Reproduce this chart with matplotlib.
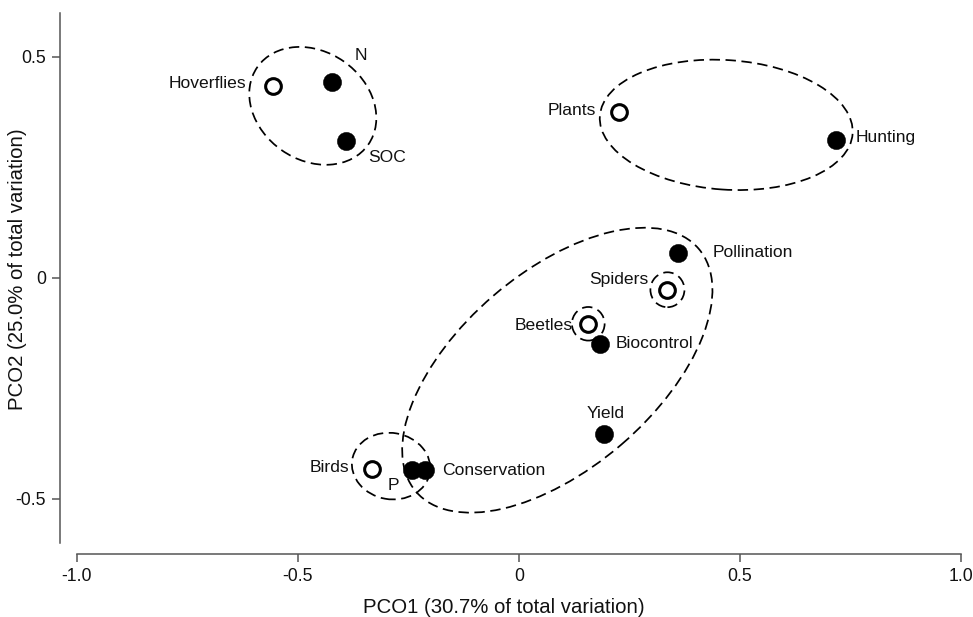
import matplotlib
matplotlib.use("Agg")
import matplotlib.pyplot as plt
from matplotlib.patches import Ellipse

plt.rcParams["font.family"] = ["Liberation Sans", "DejaVu Sans"]

# PCO scores
names = ["Hoverflies", "N", "SOC", "Plants", "Hunting", "Pollination", "Spiders",
         "Beetles", "Biocontrol", "Yield", "Birds", "P", "Conservation"]
pco1 = [-0.555, -0.423, -0.391, 0.227, 0.718, 0.360, 0.336,
        0.157, 0.184, 0.193, -0.331, -0.242, -0.213]
pco2 = [0.433, 0.442, 0.310, 0.376, 0.312, 0.057, -0.027,
        -0.104, -0.149, -0.354, -0.433, -0.435, -0.435]
# open circle = taxon, filled = service / soil variable
is_taxon = [True, False, False, True, False, False, True,
            True, False, False, True, False, False]

# cluster outlines: centre x, centre y, width, height, angle (deg)
ell_x = [-0.466, 0.469, 0.087, -0.289, 0.336, 0.157]
ell_y = [0.389, 0.346, -0.209, -0.426, -0.027, -0.104]
ell_w = [0.306, 0.573, 0.843, 0.178, 0.077, 0.074]
ell_h = [0.245, 0.293, 0.444, 0.150, 0.079, 0.076]
ell_a = [-35, -4, 40.7, -10, 0, 0]

xticks = [-1.0, -0.5, 0, 0.5, 1.0]
xtick_labels = ["-1.0", "-0.5", "0", "0.5", "1.0"]
yticks = [-0.5, 0, 0.5]
ytick_labels = ["-0.5", "0", "0.5"]

# label placement, offset in pixels from the point (dx, dy), alignment
LABELS = {
    "Hoverflies": (-27, 3, "right", "center"),
    "N": (29, 27, "center", "center"),
    "SOC": (22, -17, "left", "center"),
    "Plants": (-23, 1, "right", "center"),
    "Hunting": (19, 2, "left", "center"),
    "Pollination": (35, 0, "left", "center"),
    "Spiders": (-19, 10, "right", "center"),
    "Beetles": (-16, -2, "right", "center"),
    "Biocontrol": (15, 0, "left", "center"),
    "Yield": (1, 21, "center", "center"),
    "Birds": (-23, 2, "right", "center"),
    "P": (-18, -15, "center", "center"),
    "Conservation": (17, 0, "left", "center"),
}

fig = plt.figure(figsize=(9.73, 6.17), dpi=100)
ax = fig.add_axes([0.0788, 0.1199, 0.9089, 0.8597])

for cx, cy, w, h, a in zip(ell_x, ell_y, ell_w, ell_h, ell_a):
    ax.add_patch(Ellipse((cx, cy), w, h, angle=a, fill=False, ec="black",
                         lw=1.25, ls=(0, (6, 3.2))))

for nm, x, y, op in zip(names, pco1, pco2, is_taxon):
    if op:
        ax.plot(x, y, "o", ms=11.3, mfc="white", mec="black", mew=2.2, zorder=3)
    else:
        ax.plot(x, y, "o", ms=13.2, mfc="black", mec="black", mew=0.3, zorder=3)
    dx, dy, ha, va = LABELS[nm]
    ax.annotate(nm, (x, y), xytext=(dx, dy), textcoords="offset pixels",
                ha=ha, va=va, fontsize=12.6, color="#111111")

ax.set_xlim(-1.0, 1.0)
ax.set_ylim(-0.6, 0.6)
for s in ("top", "right"):
    ax.spines[s].set_visible(False)
ax.spines["left"].set_position(("outward", 12))
ax.spines["bottom"].set_position(("outward", 8))
for s in ("left", "bottom"):
    ax.spines[s].set_color("#555555")
    ax.spines[s].set_linewidth(1.1)

ax.set_xticks(xticks)
ax.set_xticklabels(xtick_labels)
ax.set_yticks(yticks)
ax.set_yticklabels(ytick_labels)
ax.tick_params(length=6, width=1.1, color="#555555", labelsize=12.7, pad=4,
               labelcolor="#111111")

ax.set_xlabel("PCO1 (30.7% of total variation)", fontsize=14.7, color="#111111")
ax.set_ylabel("PCO2 (25.0% of total variation)", fontsize=14.7, color="#111111")
ax.xaxis.set_label_coords(0.483, -0.103)
ax.yaxis.set_label_coords(-0.056, 0.517)

fig.savefig("out.png", dpi=100)
